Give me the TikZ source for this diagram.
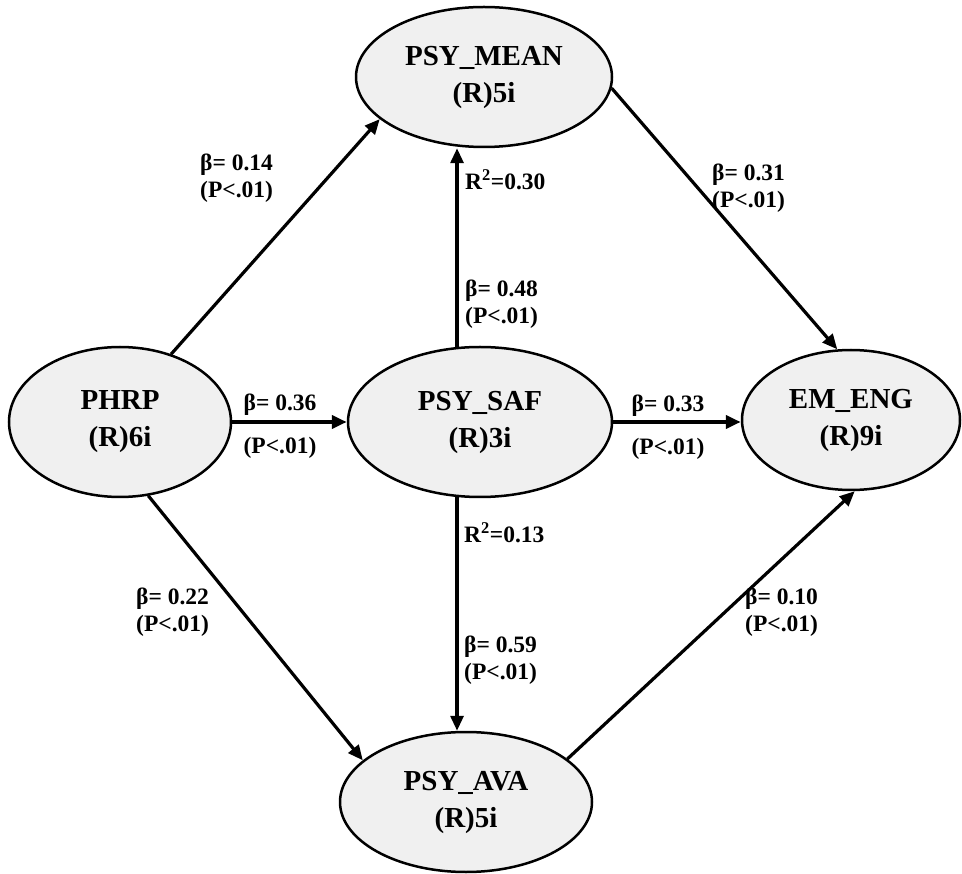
\documentclass[tikz,border=0pt]{standalone}
\usepackage{fontspec}
\setmainfont{Liberation Serif}
\usetikzlibrary{shapes.geometric,arrows.meta}
\definecolor{latfill}{HTML}{F0F0F0}
\begin{document}
\begin{tikzpicture}[x=1pt,y=-1pt,
  latent/.style={ellipse, draw, line width=2.5pt, fill=latfill, inner sep=0pt,
    align=center, font=\fontsize{29}{37}\selectfont\bfseries},
  pth/.style={line width=3.2pt, -{Triangle[length=15pt,width=13pt]}},
  hpth/.style={pth, line width=4pt},
  lbl/.style={font=\fontsize{23.5}{27}\selectfont\bfseries, align=left, inner sep=0pt},
  clbl/.style={font=\fontsize{23.5}{27}\selectfont\bfseries, align=center, inner sep=0pt}]
\useasboundingbox (0,0) rectangle (962,874);

% latent variables
\node[latent, minimum width=256pt, minimum height=140pt] (mean) at (484,77) {PSY\_MEAN\\(R)5i};
\node[latent, minimum width=222pt, minimum height=150pt] (phrp) at (120,422) {PHRP\\(R)6i};
\node[latent, minimum width=264pt, minimum height=150pt] (saf) at (480,422) {PSY\_SAF\\(R)3i};
\node[latent, minimum width=218pt, minimum height=140pt] (eng) at (851,420) {EM\_ENG\\(R)9i};
\node[latent, minimum width=252pt, minimum height=140pt] (ava) at (466,802) {PSY\_AVA\\(R)5i};

% paths
\draw[pth] (phrp.53) -- (mean.202);
\draw[pth] (mean.355) -- (eng.101);
\draw[pth] (phrp.-69) -- (ava.158);
\draw[pth] (ava.23) -- (eng.-87);
\draw[hpth] (phrp.east) -- (saf.west);
\draw[hpth] (saf.east) -- (saf.east -| eng.west);
\coordinate (sup) at (saf.107);
\coordinate (sdn) at (saf.253);
\draw[pth] (sup) -- (sup |- mean.south);
\draw[pth] (sdn) -- (sdn |- ava.north);

% labels
\node[lbl, anchor=west] (l14) at (200,178) {β= 0.14\\(P<.01)};
\node[lbl, anchor=west] (r30) at (465,180) {R\textsuperscript{2}=0.30};
\node[lbl, anchor=west] (l48) at (465,304) {β= 0.48\\(P<.01)};
\node[lbl, anchor=west] (l31) at (712,188) {β= 0.31\\(P<.01)};
\node[clbl] (l36) at (280,405) {β= 0.36};
\node[clbl] (p36) at (280,448) {(P<.01)};
\node[clbl] (l33) at (668,406) {β= 0.33};
\node[clbl] (p33) at (668,449) {(P<.01)};
\node[lbl, anchor=west] (r13) at (464,533) {R\textsuperscript{2}=0.13};
\node[lbl, anchor=west] (l22) at (136,612) {β= 0.22\\(P<.01)};
\node[lbl, anchor=west] (l59) at (464,660) {β= 0.59\\(P<.01)};
\node[lbl, anchor=west] (l10) at (745,612) {β= 0.10\\(P<.01)};
\end{tikzpicture}
\end{document}
